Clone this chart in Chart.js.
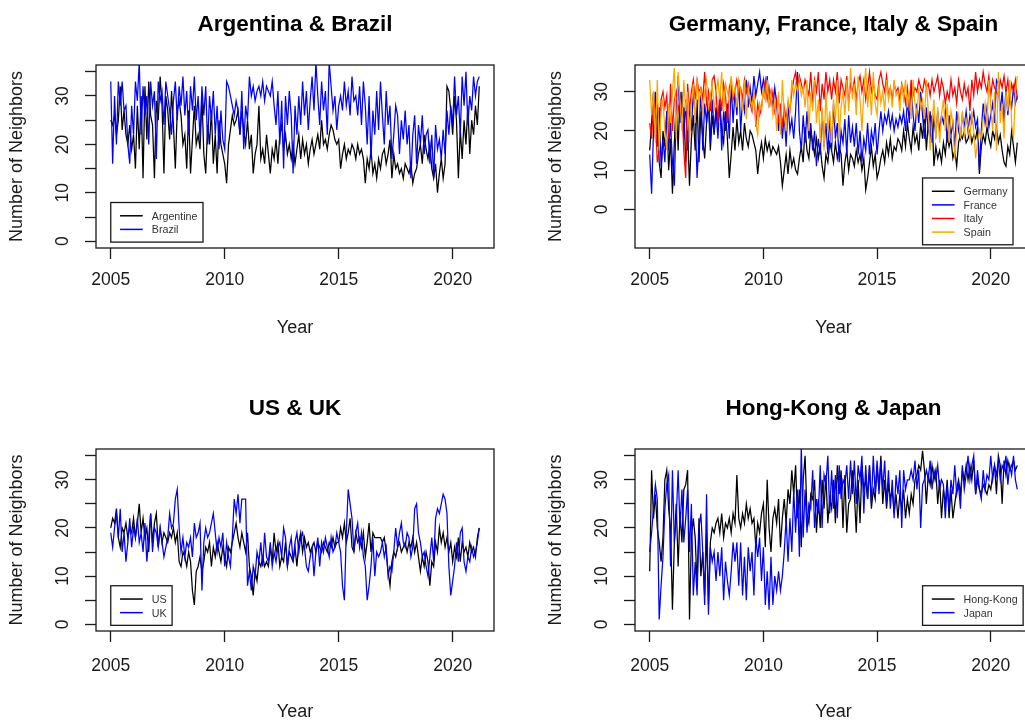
<!DOCTYPE html>
<html>
<head>
<meta charset="utf-8">
<script src="https://cdn.jsdelivr.net/npm/chart.js@4.4.0/dist/chart.umd.min.js"></script>
<style>
html,body{margin:0;padding:0;background:#ffffff;overflow:hidden;width:1025px;height:720px;}
.panel{position:absolute;}
</style>
</head>
<body>
<div class="panel" style="left:0px;top:0px;width:512px;height:380px"><canvas id="c1"></canvas></div>
<div class="panel" style="left:512px;top:0px;width:530px;height:380px"><canvas id="c2"></canvas></div>
<div class="panel" style="left:0px;top:380px;width:512px;height:340px"><canvas id="c3"></canvas></div>
<div class="panel" style="left:512px;top:380px;width:530px;height:340px"><canvas id="c4"></canvas></div>
<script>
// ---------------- DATA (monthly values, Jan 2005 .. Mar 2021) ----------------
const startYear = 2005;
const perYear = 12;
const xTicks = [2005, 2010, 2015, 2020];
const yTicksFine = [0, 5, 10, 15, 20, 25, 30, 35];
const yTicksCoarse = [0, 10, 20, 30];
const yTickLabels = [0, 10, 20, 30];

const argentine = [
  25, 24, 26, 22, 25, 32, 23, 27, 22, 20, 24, 19,
  22, 15, 28, 19, 30, 13, 32, 21, 33, 26, 24, 13,
  29, 25, 34, 28, 14, 30, 27, 21, 31, 24, 15, 27,
  29, 26, 20, 22, 15, 27, 14, 21, 28, 20, 22, 19,
  30, 18, 14, 24, 20, 27, 16, 22, 14, 25, 20, 18,
  16, 12, 20, 23, 26, 24, 25, 27, 22, 27, 23, 20,
  25, 19, 22, 14, 18, 20, 28, 17, 19, 16, 22, 18,
  14, 19, 17, 21, 16, 22, 24, 19, 22, 18, 20, 17,
  20, 16, 19, 22, 17, 21, 18, 20, 16, 19, 21, 18,
  20, 22, 19, 25, 20, 21, 19, 22, 24, 23, 21, 20,
  21, 15, 18, 20, 17, 19, 18, 20, 19, 17, 20, 18,
  19, 17, 12, 17, 15, 19, 14, 16, 13, 17, 15, 18,
  19, 16, 18, 21, 13, 18, 15, 16, 14, 15, 13, 16,
  15, 14, 16, 12, 14, 15, 18, 20, 16, 22, 19, 17,
  20, 15, 13, 16, 10, 14, 17, 13, 16, 32, 31, 27,
  22, 30, 25, 13, 23, 17, 25, 20, 28, 18, 25, 22,
  28, 24, 32
];
const brazil = [
  33, 16, 30, 20, 33, 28, 33, 27, 28, 20, 16, 28,
  22, 33, 29, 37, 22, 32, 26, 30, 20, 33, 28, 31,
  17, 33, 29, 31, 24, 33, 30, 27, 22, 29, 33, 25,
  32, 28, 34, 26, 31, 22, 32, 27, 34, 25, 30, 21,
  32, 26, 32, 20, 30, 25, 31, 22, 28, 19, 27, 21,
  19, 33, 32, 30, 28, 26, 29, 27, 22, 31, 19, 28,
  25, 34, 30, 32, 29, 31, 32, 30, 33, 29, 32, 31,
  30, 33, 28, 24, 31, 20, 29, 15, 30, 24, 31, 26,
  14, 28, 22, 30, 24, 33, 26, 31, 23, 29, 34, 27,
  37, 30, 24, 33, 27, 31, 22, 37, 32, 27, 30, 23,
  28, 30, 27, 33, 28, 31, 26, 34, 29, 30, 26, 32,
  24, 33, 28, 20, 30, 17, 27, 22, 31, 23, 33, 26,
  20, 31, 24, 28, 17, 22, 28, 26, 18, 25, 21, 27,
  20, 24, 13, 22, 26, 16, 24, 20, 26, 18, 22, 23,
  16, 22, 13, 24, 19, 21, 17, 23, 18, 27, 22, 28,
  24, 34, 26, 30, 22, 34, 28, 35, 24, 30, 27, 34,
  30, 33, 34
];
const germany = [
  15, 22, 30, 18, 27, 12, 8, 20, 16, 25, 10, 18,
  4, 17, 28, 15, 30, 22, 26, 12, 20, 6, 18, 24,
  15, 28, 12, 25, 18, 13, 22, 27, 15, 24, 19, 26,
  22, 27, 20, 17, 25, 18, 8, 14, 21, 15, 23, 17,
  20, 15, 22, 18, 16, 20, 19, 17, 15, 9, 14, 17,
  13, 18, 15, 17, 14, 16, 15, 14, 16, 12, 6, 10,
  14, 9, 15, 11, 13, 10, 9, 13, 16, 12, 21, 15,
  13, 20, 17, 14, 18, 13, 16, 11, 8, 14, 12, 17,
  15, 12, 17, 13, 16, 14, 6, 12, 15, 10, 14, 13,
  11, 15, 12, 14, 10, 13, 5, 8, 12, 16, 11, 14,
  8, 10, 13, 15, 12, 17, 14, 18, 13, 16, 15, 18,
  17, 15, 20, 16, 22, 18, 15, 21, 17, 19, 15, 22,
  18, 25, 15, 22, 17, 24, 11, 16, 13, 15, 12, 17,
  14, 19, 16, 18, 13, 15, 11, 17, 19, 18, 20, 17,
  18, 20, 17, 19, 18, 21, 9, 16, 19, 17, 21, 18,
  16, 20, 18, 21, 17, 19, 15, 12, 11, 16, 14, 20,
  16, 12, 17
];
const france = [
  14, 4, 20, 30, 16, 26, 11, 18, 12, 25, 15, 22,
  12, 6, 25, 34, 22, 30, 18, 28, 15, 27, 20, 30,
  24, 8, 18, 31, 15, 27, 22, 30, 17, 28, 20, 25,
  18, 28, 15, 25, 20, 27, 18, 32, 22, 30, 24, 33,
  20, 28, 25, 33, 26, 31, 27, 34, 29, 32, 35, 30,
  33, 28, 34, 27, 30, 26, 31, 27, 20, 26, 18, 24,
  16, 27, 20, 23, 18, 25, 35, 20, 15, 24, 17, 25,
  18, 22, 15, 20, 11, 18, 14, 25, 16, 22, 14, 24,
  15, 27, 18, 22, 12, 20, 17, 23, 14, 24, 17, 21,
  16, 22, 14, 20, 12, 18, 15, 22, 14, 20, 17, 22,
  14, 20, 25, 20, 24, 22, 25, 21, 24, 20, 23, 21,
  24, 22, 25, 20, 28, 22, 32, 24, 20, 27, 22, 30,
  24, 18, 26, 20, 25, 17, 23, 19, 25, 20, 24, 22,
  25, 17, 24, 19, 22, 16, 25, 20, 18, 24, 21, 25,
  20, 24, 22, 25, 21, 23, 10, 20, 27, 22, 26, 21,
  24, 27, 22, 33, 32, 25, 30, 22, 31, 24, 29, 26,
  31, 27, 29
];
const italy = [
  22, 18, 28, 24, 12, 15, 28, 30, 26, 29, 18, 32,
  20, 28, 30, 25, 28, 26, 15, 8, 32, 25, 30, 33,
  28, 33, 30, 31, 28, 35, 27, 30, 25, 33, 34, 30,
  22, 30, 25, 32, 29, 22, 31, 33, 28, 30, 33, 30,
  31, 28, 33, 30, 32, 27, 25, 30, 21, 27, 24, 26,
  30, 33, 28, 31, 27, 30, 25, 28, 22, 27, 21, 26,
  23, 27, 25, 30, 33, 35, 31, 34, 32, 30, 33, 31,
  29, 35, 27, 33, 30, 35, 25, 32, 28, 35, 30, 33,
  28, 33, 30, 35, 27, 33, 31, 29, 34, 27, 32, 30,
  33, 28, 32, 34, 30, 33, 28, 31, 35, 30, 32, 29,
  28, 33, 35, 32, 30, 34, 29, 31, 28, 32, 30, 31,
  28, 32, 30, 27, 31, 26, 33, 29, 31, 30, 33, 31,
  30, 33, 31, 32, 29, 33, 30, 32, 34, 29, 33, 31,
  27, 30, 28, 33, 29, 31, 27, 33, 30, 28, 32, 29,
  31, 25, 33, 29, 35, 30, 33, 31, 35, 32, 30, 34,
  29, 33, 31, 30, 29, 33, 31, 34, 30, 33, 28, 32,
  30, 33, 28
];
const spain = [
  33, 24, 30, 17, 33, 15, 25, 28, 20, 15, 27, 22,
  30, 36, 18, 35, 28, 20, 33, 25, 30, 17, 27, 32,
  22, 33, 27, 31, 24, 30, 33, 26, 29, 32, 25, 30,
  33, 28, 35, 25, 32, 30, 27, 34, 29, 31, 26, 33,
  30, 25, 33, 23, 31, 28, 26, 30, 22, 19, 27, 25,
  31, 28, 33, 26, 30, 24, 28, 20, 30, 19, 33, 24,
  20, 28, 25, 33, 29, 32, 30, 33, 29, 31, 26, 33,
  20, 30, 25, 33, 22, 28, 17, 26, 15, 30, 20, 25,
  17, 28, 22, 33, 18, 26, 30, 24, 33, 25, 36, 28,
  32, 24, 34, 28, 20, 30, 36, 26, 32, 24, 35, 27,
  24, 32, 27, 30, 25, 33, 28, 31, 26, 33, 29, 30,
  25, 32, 28, 33, 26, 30, 23, 33, 27, 24, 31, 26,
  28, 23, 33, 25, 15, 22, 28, 18, 26, 17, 24, 28,
  20, 27, 17, 25, 22, 13, 20, 24, 18, 25, 19, 23,
  21, 18, 25, 20, 13, 17, 20, 18, 23, 27, 21, 33,
  26, 20, 30, 15, 35, 22, 27, 18, 30, 25, 33, 22,
  18, 30, 34
];
const us = [
  20, 22, 21, 24, 18, 16, 20, 19, 21, 18, 20, 19,
  22, 18, 21, 25, 19, 22, 18, 20, 15, 23, 17, 21,
  23, 16, 20, 17, 19, 18, 17, 19, 18, 20, 17, 19,
  13, 12, 15, 14, 12, 15, 13, 7, 4, 11, 12, 14,
  11, 13, 16, 15, 17, 12, 16, 14, 17, 15, 13, 16,
  14, 12, 16, 15, 17, 19, 21, 18, 16, 19, 17, 15,
  19, 12, 10, 6, 11, 9, 13, 12, 14, 12, 13, 12,
  16, 13, 19, 15, 17, 12, 14, 13, 17, 12, 15, 14,
  13, 16, 12, 17, 19, 15, 18, 16, 17, 15, 16, 17,
  15, 17, 16, 15, 17, 16, 15, 17, 16, 18, 16, 17,
  17, 20, 18, 21, 17, 19, 22, 16, 15, 19, 17, 18,
  16, 19, 14, 17, 21, 15, 19, 18, 18, 18, 18, 17,
  18, 15, 11, 8, 13, 15, 14, 16, 17, 15, 16, 17,
  15, 17, 16, 18, 15, 17, 14, 11, 14, 12, 15, 13,
  8, 13, 12, 17, 15, 20, 17, 19, 16, 18, 15, 17,
  13, 16, 14, 18, 13, 17, 15, 16, 14, 17, 15, 16,
  14, 18, 20
];
const uk = [
  19, 16, 20, 23, 18, 24, 15, 19, 13, 17, 22, 16,
  20, 18, 22, 17, 19, 15, 21, 13, 18, 23, 15, 20,
  19, 16, 20, 17, 14, 16, 18, 23, 20, 21, 26, 28,
  20, 15, 18, 14, 17, 16, 18, 14, 21, 18, 19, 21,
  7, 17, 20, 18, 19, 21, 23, 19, 15, 18, 16, 19,
  12, 17, 14, 12, 18, 26, 23, 27, 21, 26, 26, 26,
  8, 11, 7, 12, 10, 15, 13, 17, 12, 19, 14, 13,
  17, 12, 15, 13, 16, 17, 14, 20, 18, 12, 16, 18,
  13, 17, 19, 15, 18, 19, 16, 12, 11, 14, 16, 10,
  15, 18, 12, 17, 15, 18, 16, 14, 18, 15, 16, 19,
  17, 15, 8, 5, 19, 28, 25, 22, 15, 19, 21, 16,
  19, 14, 12, 5, 8, 12, 18, 10, 15, 14, 15, 17,
  14, 16, 10, 12, 11, 15, 20, 16, 19, 21, 17, 16,
  19, 18, 14, 16, 24, 25, 19, 17, 14, 15, 12, 10,
  14, 18, 13, 22, 24, 23, 25, 27, 26, 23, 12, 6,
  9, 12, 17, 13, 19, 20, 13, 11, 14, 13, 16, 14,
  15, 17, 20
];
const hongKong = [
  11, 32, 22, 27, 20, 17, 13, 18, 30, 32, 24, 20,
  3, 17, 25, 12, 23, 17, 28, 29, 32, 1, 18, 22,
  18, 8, 22, 10, 15, 6, 19, 4, 17, 20, 19, 21,
  22, 19, 23, 18, 21, 20, 22, 19, 23, 21, 31, 22,
  20, 23, 21, 25, 22, 24, 21, 22, 16, 21, 19, 23,
  25, 16, 30, 20, 15, 22, 24, 21, 26, 16, 22, 26,
  21, 28, 25, 32, 27, 33, 22, 28, 16, 30, 35, 23,
  21, 27, 26, 30, 19, 26, 20, 30, 24, 31, 21, 26,
  24, 30, 21, 33, 27, 32, 20, 31, 19, 25, 26, 32,
  27, 19, 30, 21, 33, 28, 30, 26, 33, 24, 28, 26,
  33, 28, 35, 25, 30, 24, 29, 26, 28, 23, 27, 22,
  27, 24, 28, 22, 26, 23, 27, 25, 30, 31, 33, 32,
  36, 32, 25, 31, 29, 33, 30, 32, 25, 30, 22, 28,
  25, 30, 22, 28, 22, 25, 28, 30, 27, 32, 30, 33,
  30, 33, 30, 34, 27, 30, 28, 27, 29, 28, 27, 29,
  28, 31, 33, 27, 35, 33, 25, 34, 31, 34, 32, 33,
  34, 32, 33
];
const japan = [
  15, 19, 24, 29, 26, 1, 8, 14, 24, 29, 31, 12,
  32, 17, 22, 32, 20, 28, 17, 22, 28, 15, 25, 6,
  13, 6, 20, 23, 15, 4, 27, 2, 16, 13, 15, 9,
  15, 10, 16, 5, 13, 9, 6, 11, 17, 13, 17, 8,
  17, 6, 14, 5, 16, 11, 15, 6, 18, 14, 18, 9,
  16, 4, 11, 3, 14, 4, 10, 7, 11, 7, 10, 15,
  22, 13, 22, 15, 28, 19, 28, 14, 37, 18, 28, 19,
  25, 24, 32, 20, 26, 23, 33, 20, 31, 29, 35, 23,
  32, 24, 31, 22, 33, 26, 30, 29, 33, 26, 34, 27,
  34, 25, 33, 30, 35, 23, 33, 26, 33, 25, 35, 27,
  34, 27, 34, 28, 34, 25, 32, 24, 30, 22, 31, 27,
  32, 20, 32, 28, 30, 30, 32, 30, 34, 28, 32, 20,
  29, 30, 32, 30, 34, 28, 32, 30, 33, 28, 30, 29,
  22, 29, 24, 30, 27, 33, 27, 29, 24, 33, 28, 31,
  35, 30, 33, 35, 27, 32, 28, 26, 32, 28, 31, 30,
  35, 30, 33, 31, 34, 30, 33, 32, 35, 29, 33, 31,
  35, 30, 28
];

// ---------------- RENDERING ----------------
const FONT = "'Liberation Sans', Arial, Helvetica, sans-serif";
Chart.defaults.font.family = FONT;
Chart.defaults.color = '#1a1a1a';

function toPoints(arr) {
  return arr.map((v, i) => ({ x: startYear + i / perYear, y: v }));
}

const decorPlugin = {
  id: 'decor',
  afterDraw(chart) {
    const cfg = chart.config.options.plugins.decor;
    const ctx = chart.ctx;
    const ca = chart.chartArea;
    const cx = (ca.left + ca.right) / 2;
    ctx.save();
    // plot box
    ctx.strokeStyle = '#1a1a1a';
    ctx.lineWidth = 1.3;
    ctx.strokeRect(ca.left, ca.top, ca.right - ca.left, ca.bottom - ca.top);
    // main title
    ctx.fillStyle = '#000000';
    ctx.font = 'bold 22.5px ' + FONT;
    ctx.textAlign = 'center';
    ctx.textBaseline = 'alphabetic';
    ctx.fillText(cfg.title, cx, ca.top - 34.5);
    // x axis title
    ctx.fillStyle = '#1a1a1a';
    ctx.font = '18px ' + FONT;
    ctx.fillText('Year', cx, ca.bottom + cfg.xTitleOffset);
    // y axis title
    ctx.save();
    ctx.translate(ca.left - 79, (ca.top + ca.bottom) / 2);
    ctx.rotate(-Math.PI / 2);
    ctx.textBaseline = 'middle';
    ctx.fillText('Number of Neighbors', 0, 0);
    ctx.restore();
    // legend
    const xs = chart.scales.x, ys = chart.scales.y;
    const left = xs.getPixelForValue(cfg.legendX);
    const top = ys.getPixelForValue(cfg.legendY);
    ctx.font = '10.7px ' + FONT;
    let tw = 0;
    chart.data.datasets.forEach(d => { tw = Math.max(tw, ctx.measureText(d.label).width); });
    const n = chart.data.datasets.length;
    const w = 41 + tw + 5.5;
    const h = 13.3 + (n - 1) * 13.6 + 12.7;
    ctx.fillStyle = '#ffffff';
    ctx.fillRect(left, top, w, h);
    ctx.strokeStyle = '#1a1a1a';
    ctx.lineWidth = 1.3;
    ctx.strokeRect(left, top, w, h);
    chart.data.datasets.forEach((d, i) => {
      const y = top + 13.3 + i * 13.6;
      ctx.strokeStyle = d.borderColor;
      ctx.lineWidth = 1.5;
      ctx.beginPath();
      ctx.moveTo(left + 9.3, y);
      ctx.lineTo(left + 32, y);
      ctx.stroke();
      ctx.fillStyle = '#333333';
      ctx.textAlign = 'left';
      ctx.textBaseline = 'middle';
      ctx.fillText(d.label, left + 41, y + 1);
    });
    ctx.restore();
  }
};

function makeChart(id, p) {
  const n = p.series.length;
  const datasets = p.series.map((s, i) => ({
    label: s.label,
    data: toPoints(s.data),
    borderColor: s.color,
    backgroundColor: s.color,
    borderWidth: 1.25,
    pointRadius: 0,
    stepped: false,
    tension: 0,
    order: n - i
  }));
  const gridOpts = {
    drawOnChartArea: false,
    drawTicks: true,
    tickLength: 11,
    tickColor: '#1a1a1a',
    tickWidth: 1.3,
    color: '#1a1a1a'
  };
  return new Chart(document.getElementById(id), {
    type: 'line',
    data: { datasets },
    options: {
      responsive: true,
      maintainAspectRatio: false,
      animation: false,
      events: [],
      layout: { padding: p.pad },
      plugins: {
        legend: { display: false },
        title: { display: false },
        tooltip: { enabled: false },
        decor: { title: p.title, legendX: p.legendX, legendY: 8, xTitleOffset: p.xTitleOffset }
      },
      scales: {
        x: {
          type: 'linear',
          min: 2004.353,
          max: 2021.813,
          afterBuildTicks: s => { s.ticks = xTicks.map(v => ({ value: v })); },
          afterFit: s => { s.height = 50; },
          grid: gridOpts,
          border: { display: false },
          ticks: {
            font: { size: 17.5 },
            color: '#1a1a1a',
            padding: p.xLabelPad,
            maxRotation: 0,
            autoSkip: false,
            callback: v => String(v)
          }
        },
        y: {
          type: 'linear',
          min: p.yMin,
          max: p.yMax,
          afterBuildTicks: s => { s.ticks = p.yTicks.map(v => ({ value: v })); },
          afterFit: s => { s.width = 50; },
          grid: gridOpts,
          border: { display: false },
          ticks: {
            font: { size: 17.5 },
            color: '#1a1a1a',
            padding: 12,
            minRotation: 90,
            maxRotation: 90,
            crossAlign: 'center',
            autoSkip: false,
            callback: v => (yTickLabels.includes(v) ? String(v) : '')
          }
        }
      }
    },
    plugins: [decorPlugin]
  });
}

makeChart('c1', {
  title: 'Argentina & Brazil',
  series: [
    { label: 'Argentine', data: argentine, color: '#000000' },
    { label: 'Brazil', data: brazil, color: '#0000FF' }
  ],
  yMin: -1.4, yMax: 36.4, yTicks: yTicksFine, legendX: 2005,
  pad: { left: 46, top: 65, right: 18, bottom: 82 },
  xLabelPad: 10.8, xTitleOffset: 85
});
makeChart('c2', {
  title: 'Germany, France, Italy & Spain',
  series: [
    { label: 'Germany', data: germany, color: '#000000' },
    { label: 'France', data: france, color: '#0000FF' },
    { label: 'Italy', data: italy, color: '#FF0000' },
    { label: 'Spain', data: spain, color: '#FFA500' }
  ],
  yMin: -9.85, yMax: 36.8, yTicks: yTicksCoarse, legendX: 2017,
  pad: { left: 73, top: 65, right: 10, bottom: 82 },
  xLabelPad: 10.8, xTitleOffset: 85
});
makeChart('c3', {
  title: 'US & UK',
  series: [
    { label: 'US', data: us, color: '#000000' },
    { label: 'UK', data: uk, color: '#0000FF' }
  ],
  yMin: -1.4, yMax: 36.4, yTicks: yTicksFine, legendX: 2005,
  pad: { left: 46, top: 69, right: 18, bottom: 39 },
  xLabelPad: 14, xTitleOffset: 86
});
makeChart('c4', {
  title: 'Hong-Kong & Japan',
  series: [
    { label: 'Hong-Kong', data: hongKong, color: '#000000' },
    { label: 'Japan', data: japan, color: '#0000FF' }
  ],
  yMin: -1.4, yMax: 36.4, yTicks: yTicksFine, legendX: 2017,
  pad: { left: 73, top: 69, right: 10, bottom: 39 },
  xLabelPad: 14, xTitleOffset: 86
});
</script>
</body>
</html>
